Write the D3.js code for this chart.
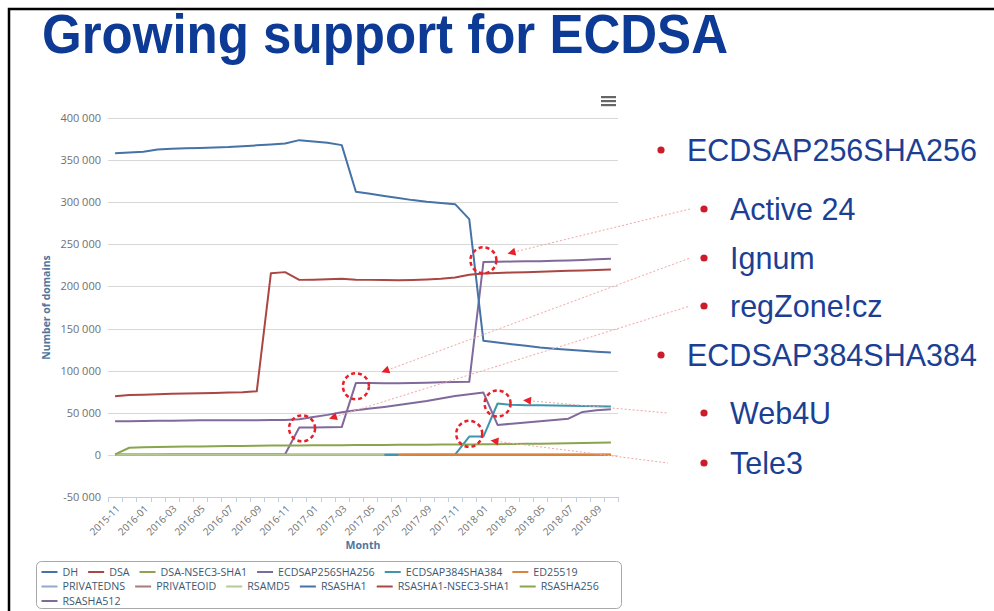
<!DOCTYPE html>
<html>
<head>
<meta charset="utf-8">
<script src="https://cdn.jsdelivr.net/npm/d3@7/dist/d3.min.js"></script>
<style>
  body { margin: 0; background: #fff; }
  svg { display: block; }
</style>
</head>
<body>
<script>
// ---- data ----
var months = ["2015-11", "2015-12",
  "2016-01", "2016-02", "2016-03", "2016-04", "2016-05", "2016-06",
  "2016-07", "2016-08", "2016-09", "2016-10", "2016-11", "2016-12",
  "2017-01", "2017-02", "2017-03", "2017-04", "2017-05", "2017-06",
  "2017-07", "2017-08", "2017-09", "2017-10", "2017-11", "2017-12",
  "2018-01", "2018-02", "2018-03", "2018-04", "2018-05", "2018-06",
  "2018-07", "2018-08", "2018-09", "2018-10"];

var yTicks = [-50000, 0, 50000, 100000, 150000, 200000, 250000, 300000, 350000, 400000];

var seriesNames = ["DH", "DSA", "DSA-NSEC3-SHA1", "ECDSAP256SHA256", "ECDSAP384SHA384", "ED25519",
  "PRIVATEDNS", "PRIVATEOID", "RSAMD5", "RSASHA1", "RSASHA1-NSEC3-SHA1", "RSASHA256", "RSASHA512"];
var seriesColors = ["#4572A7", "#AA4643", "#89A54E", "#80699B", "#3D96AE", "#DB843D",
  "#92A8CD", "#A47D7C", "#B5CA92", "#4572A7", "#AA4643", "#89A54E", "#80699B"];

var dh = [5, 5, 5, 5, 5, 5, 5, 5, 5, 5, 5, 5, 5, 5, 5, 5, 5, 5, 5, 5,
  5, 5, 5, 5, 5, 5, 5, 5, 5, 5, 5, 5, 5, 5, 5, 5];
var dsa = [60, 60, 58, 58, 56, 56, 55, 55, 54, 54, 52, 52, 50, 50, 48, 48, 46, 46, 45, 45,
  44, 44, 42, 42, 40, 40, 38, 38, 36, 36, 35, 35, 34, 34, 33, 33];
var dsaNsec3 = [20, 20, 20, 20, 20, 20, 20, 20, 20, 20, 20, 20, 20, 20, 20, 20, 20, 20, 20, 20,
  18, 18, 18, 18, 18, 18, 18, 18, 18, 18, 18, 18, 18, 18, 18, 18];
var ecdsa256 = [200, 250, 300, 300, 350, 400, 400, 450, 500, 500,
  550, 600, 700, 32500, 32600, 32800, 33000, 85500, 85300, 85200,
  85200, 85400, 85800, 86100, 86400, 86800, 229000, 229300, 229500, 229800,
  230000, 230400, 230800, 231400, 232200, 232900];
var ecdsa384 = [null, null, null, null, null, null, null, null, null, null,
  null, null, null, null, null, null, null, null, null, 100,
  150, 200, 250, 300, 400, 21800, 21800, 61000, 59400, 59000,
  58800, 58500, 58200, 58000, 57800, 57500];
var ed25519 = [null, null, null, null, null, null, null, null, null, null,
  null, null, null, null, null, null, null, null, null, null,
  10, 20, 30, 40, 50, 60, 80, 100, 120, 140, 160, 180, 200, 220, 240, 260];
var privateDns = [2, 2, 2, 2, 2, 2, 2, 2, 2, 2, 2, 2, 2, 2, 2, 2, 2, 2, 2, 2,
  null, null, null, null, null, null, null, null, null, null, null, null, null, null, null, null];
var privateOid = [3, 3, 3, 3, 3, 3, 3, 3, 3, 3, 3, 3, 3, 3, 3, 3, 3, 3, 3, 3,
  null, null, null, null, null, null, null, null, null, null, null, null, null, null, null, null];
var rsamd5 = [150, 150, 148, 148, 146, 146, 145, 145, 144, 144, 142, 142, 140, 140, 138, 138, 136, 136, 135, 135,
  null, null, null, null, null, null, null, null, null, null, null, null, null, null, null, null];
var rsasha1 = [358000, 359000, 360000, 362500, 363500, 364000, 364500, 365000, 365500, 366500,
  367500, 368500, 369700, 373700, 372000, 370500, 367800, 312500, 310000, 307500,
  305000, 302500, 300500, 299000, 297700, 280000, 135400, 133500, 131500, 129500,
  127500, 126000, 124800, 123600, 122500, 121500];
var rsasha1Nsec3 = [69500, 71000, 71500, 72000, 72500, 73000, 73300, 73600, 74000, 74300,
  75500, 215800, 217000, 207800, 208000, 208500, 209000, 208000, 207800, 207700,
  207500, 207700, 208200, 209000, 210500, 214000, 215500, 216000, 216500, 217000,
  217500, 218000, 218500, 219000, 219500, 220000];
var rsasha256 = [500, 8500, 9000, 9300, 9600, 9900, 10100, 10300, 10500, 10700,
  10900, 11000, 11100, 11200, 11300, 11400, 11500, 11600, 11700, 11800,
  11900, 12000, 12100, 12200, 12300, 12400, 12500, 12700, 12900, 13100,
  13300, 13500, 13800, 14100, 14400, 14600];
var rsasha512 = [40000, 40000, 40200, 40400, 40600, 40800, 41000, 41000, 41000, 41200,
  41200, 41300, 41400, 42400, 45000, 47500, 50500, 53000, 55000, 57000,
  59200, 61500, 64000, 67000, 70000, 72000, 74000, 35600, 37000, 38500,
  40000, 41500, 43000, 51000, 53000, 54300];

var seriesValues = [dh, dsa, dsaNsec3, ecdsa256, ecdsa384, ed25519,
  privateDns, privateOid, rsamd5, rsasha1, rsasha1Nsec3, rsasha256, rsasha512];

// side notes on the slide
var noteTexts = ["ECDSAP256SHA256", "Active 24", "Ignum", "regZone!cz", "ECDSAP384SHA384", "Web4U", "Tele3"];
var noteLevels = [0, 1, 1, 1, 0, 1, 1];

// highlighted steps (category index, value) and arrows pointing at them
var markIndex = [26, 17, 13.2, 25, 27];
var markValue = [231000, 81500, 31500, 25000, 61000];
var arrowIndex = [27.7, 18.8, 15.1, 28.8, 26.5];
var arrowValue = [239000, 98000, 43000, 65000, 17000];
var arrowNote = [1, 2, 3, 5, 6];

// ---- drawing ----
var W = 994, H = 611;
var svg = d3.select("body").append("svg")
  .attr("width", W)
  .attr("height", H);

// slide frame
svg.append("path")
  .attr("d", "M9," + H + " V9 H" + W)
  .attr("fill", "none")
  .attr("stroke", "#000")
  .attr("stroke-width", 2.5);

svg.append("text")
  .attr("x", 42)
  .attr("y", 53)
  .attr("font-family", "Liberation Sans, Arial, sans-serif")
  .attr("font-weight", "bold")
  .attr("font-size", 56)
  .attr("textLength", 686)
  .attr("lengthAdjust", "spacingAndGlyphs")
  .attr("fill", "#0d3a94")
  .text("Growing support for ECDSA");

var plotL = 108, plotR = 618, plotT = 118, plotB = 497;
var chartFont = "Open Sans, DejaVu Sans, sans-serif";

var x = d3.scaleBand().domain(months).range([plotL, plotR]);
var xAt = function(i) { return plotL + x.step() * (i + 0.5); };
var y = d3.scaleLinear().domain([-50000, 400000]).range([plotB, plotT]);

var fmt = d3.formatLocale({ decimal: ".", thousands: " ", grouping: [3], currency: ["", ""], minus: "-" }).format(",");

// grid
svg.append("g")
  .selectAll("line")
  .data(yTicks)
  .enter().append("line")
  .attr("x1", plotL)
  .attr("x2", plotR)
  .attr("y1", function(d) { return Math.round(y(d)) + 0.5; })
  .attr("y2", function(d) { return Math.round(y(d)) + 0.5; })
  .attr("stroke", "#d8d8d8")
  .attr("stroke-width", 1);

// y axis labels
var yAxis = svg.append("g")
  .attr("transform", "translate(" + plotL + ",0)")
  .call(d3.axisLeft(y).tickValues(yTicks).tickSize(0).tickPadding(7).tickFormat(fmt));
yAxis.select(".domain").remove();
yAxis.selectAll("text")
  .attr("font-family", chartFont)
  .attr("font-size", 11)
  .attr("fill", "#707070");

svg.append("text")
  .attr("transform", "translate(50," + ((plotT + plotB) / 2) + ") rotate(-90)")
  .attr("text-anchor", "middle")
  .attr("font-family", chartFont)
  .attr("font-weight", "bold")
  .attr("font-size", 10.5)
  .attr("fill", "#4d759e")
  .text("Number of domains");

// x axis
var xg = svg.append("g").attr("transform", "translate(0," + plotB + ")");
xg.append("line")
  .attr("x1", plotL).attr("x2", plotR)
  .attr("y1", 0.5).attr("y2", 0.5)
  .attr("stroke", "#C0D0E0");
xg.selectAll("line.tick")
  .data(d3.range(months.length + 1))
  .enter().append("line")
  .attr("class", "tick")
  .attr("x1", function(k) { return Math.round(plotL + x.step() * k) + 0.5; })
  .attr("x2", function(k) { return Math.round(plotL + x.step() * k) + 0.5; })
  .attr("y1", 0)
  .attr("y2", 5)
  .attr("stroke", "#C0D0E0");

var xAxis = svg.append("g")
  .attr("transform", "translate(0," + plotB + ")")
  .call(d3.axisBottom(x).tickValues(months.filter(function(m, i) { return i % 2 === 0; })).tickSize(0));
xAxis.select(".domain").remove();
xAxis.selectAll("text")
  .attr("x", 0)
  .attr("y", 0)
  .attr("dy", "0.35em")
  .attr("transform", "translate(3,10) rotate(-45)")
  .attr("text-anchor", "end")
  .attr("font-family", chartFont)
  .attr("font-size", 10)
  .attr("fill", "#707070");

svg.append("text")
  .attr("x", (plotL + plotR) / 2)
  .attr("y", 549)
  .attr("text-anchor", "middle")
  .attr("font-family", chartFont)
  .attr("font-weight", "bold")
  .attr("font-size", 10.5)
  .attr("fill", "#4d759e")
  .text("Month");

// series lines
var line = d3.line()
  .defined(function(d) { return d != null; })
  .x(function(d, i) { return x(months[i]) + x.bandwidth() / 2; })
  .y(function(d) { return y(d); });

svg.append("g")
  .selectAll("path")
  .data(seriesValues)
  .enter().append("path")
  .attr("d", line)
  .attr("fill", "none")
  .attr("stroke", function(d, i) { return seriesColors[i]; })
  .attr("stroke-width", 2)
  .attr("stroke-linejoin", "round");

// export menu icon
svg.append("g")
  .selectAll("rect")
  .data([0, 1, 2])
  .enter().append("rect")
  .attr("x", 601)
  .attr("y", function(d) { return 96 + d * 4; })
  .attr("width", 15)
  .attr("height", 2.2)
  .attr("fill", "#666");

// legend
var legend = svg.append("g");
legend.append("rect")
  .attr("x", 36.5).attr("y", 561.5)
  .attr("width", 585).attr("height", 47)
  .attr("rx", 5)
  .attr("fill", "#fff")
  .attr("stroke", "#a8a8a8");

var lx = 41.5, ly = 572, rowH = 14.5, maxX = 618;
seriesNames.forEach(function(name, i) {
  var item = legend.append("g");
  var t = item.append("text")
    .attr("font-family", chartFont)
    .attr("font-size", 10.7)
    .attr("fill", "#3e576f")
    .attr("dy", "0.35em")
    .text(name);
  var w = t.node().getComputedTextLength();
  if (lx + 21 + w > maxX) { lx = 41.5; ly += rowH; }
  t.attr("x", lx + 21).attr("y", ly);
  item.append("line")
    .attr("x1", lx).attr("x2", lx + 16)
    .attr("y1", ly).attr("y2", ly)
    .attr("stroke", seriesColors[i])
    .attr("stroke-width", 2);
  lx += 21 + w + 10;
});

// notes on the right
var noteY = [150, 209, 258, 306, 355, 413, 463];
var notes = svg.append("g");
noteTexts.forEach(function(txt, i) {
  var bx = noteLevels[i] ? 704 : 661;
  notes.append("circle")
    .attr("cx", bx).attr("cy", noteY[i])
    .attr("r", 3.6)
    .attr("fill", "#cc1b2b");
  notes.append("text")
    .attr("x", bx + 26)
    .attr("y", noteY[i] + 11)
    .attr("font-family", "Liberation Sans, Arial, sans-serif")
    .attr("font-size", 30.5)
    .attr("fill", "#1c3f94")
    .text(txt);
});

// annotation circles
svg.append("g")
  .selectAll("circle")
  .data(markIndex)
  .enter().append("circle")
  .attr("cx", function(d) { return xAt(d); })
  .attr("cy", function(d, i) { return y(markValue[i]); })
  .attr("r", 13)
  .attr("fill", "none")
  .attr("stroke", "#e8202a")
  .attr("stroke-width", 2.5)
  .attr("stroke-dasharray", "4,3");

// arrows toward the notes
var arrowG = svg.append("g");
arrowIndex.forEach(function(ai, i) {
  var tx = xAt(ai), ty = y(arrowValue[i]);
  var n = arrowNote[i];
  var ex = (n >= 5 ? 668 : 690), ey = noteY[n];
  var dx = tx - ex, dy = ty - ey, len = Math.sqrt(dx * dx + dy * dy);
  var ux = dx / len, uy = dy / len;
  arrowG.append("line")
    .attr("x1", tx - ux * 6).attr("y1", ty - uy * 6)
    .attr("x2", ex).attr("y2", ey)
    .attr("stroke", "#f2a6a6")
    .attr("stroke-width", 1)
    .attr("stroke-dasharray", "2,2");
  var bx = tx - ux * 8, by = ty - uy * 8;
  arrowG.append("path")
    .attr("d", "M" + tx + "," + ty +
      "L" + (bx - uy * 4) + "," + (by + ux * 4) +
      "L" + (bx + uy * 4) + "," + (by - ux * 4) + "Z")
    .attr("fill", "#e8202a");
});
</script>
</body>
</html>
